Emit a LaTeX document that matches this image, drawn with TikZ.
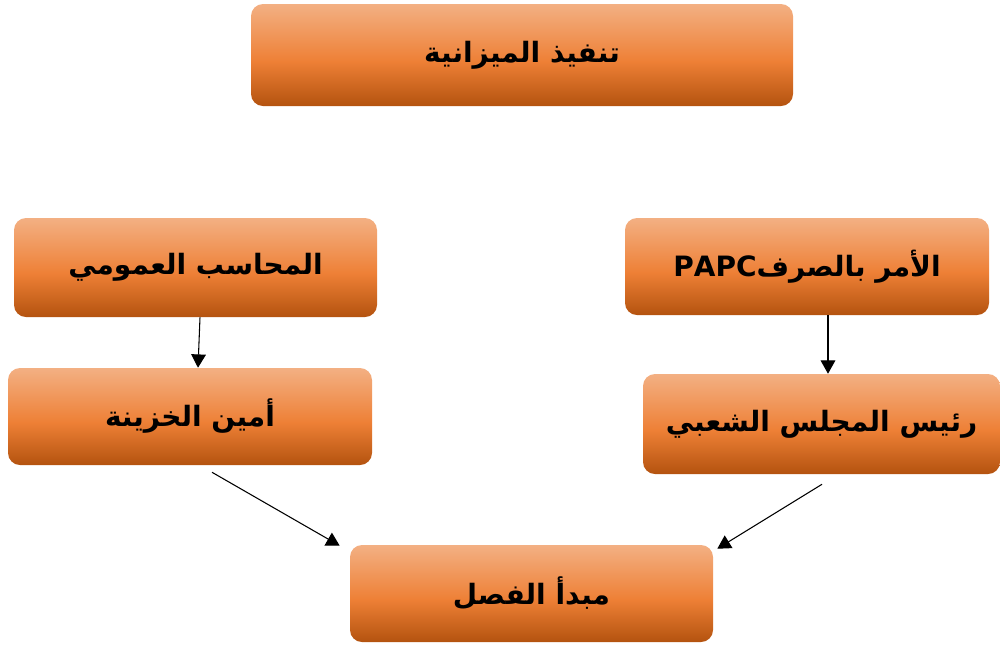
\documentclass[tikz,border=0pt]{standalone}
\usepackage{fontspec}
\newfontfamily\arabicfont[Script=Arabic]{DejaVu Sans}
\TeXXeTstate=1
\usetikzlibrary{arrows.meta,calc}
\definecolor{oLight}{HTML}{F3B083}
\definecolor{oMid}{HTML}{EE8036}
\definecolor{oDark}{HTML}{B4530F}
\pgfdeclareverticalshading{boxshade}{100bp}{color(0bp)=(oDark); color(25bp)=(oDark); color(47bp)=(oMid); color(75bp)=(oLight); color(100bp)=(oLight)}
\tikzset{
  box/.style={rounded corners=9pt, shading=boxshade, inner sep=0pt,
    font=\arabicfont\bfseries\fontsize{21}{25}\selectfont, text=black},
  arr/.style={-{Triangle[length=10pt,width=11pt]}, line width=0.8pt, black}
}
\begin{document}
\begin{tikzpicture}[x=0.75pt,y=-0.75pt]
\useasboundingbox (0,0) rectangle (1000,644);
\node[box, minimum width=406.5pt, minimum height=76.5pt] (top) at (522,55) {\beginR تنفيذ الميزانية\endR};
\node[box, minimum width=272.25pt, minimum height=74.25pt] (lt) at (195.5,267.5) {\beginR المحاسب العمومي\endR};
\node[box, minimum width=273pt, minimum height=72.75pt] (lb) at (190,416.5) {\beginR أمين الخزينة\endR};
\node[box, minimum width=273pt, minimum height=72.75pt] (rt) at (807,266.5) {\beginR الأمر بالصرف\beginL PAPC\endL\endR};
\node[box, minimum width=267.75pt, minimum height=75pt] (rb) at (821.5,424) {\beginR رئيس المجلس الشعبي\endR};
\node[box, minimum width=272.25pt, minimum height=72.75pt] (bot) at (531.5,593.5) {\beginR مبدأ الفصل\endR};
\draw[arr] ($(lt.south)+(4.5,0)$) -- ($(lb.north)+(8,0)$);
\draw[arr] ($(rt.south)+(21,0)$) -- ($(rb.north)+(6.5,0)$);
\draw[arr] ($(lb.south)+(22,7)$) -- ($(bot.north west)+(-10,1)$);
\draw[arr] ($(rb.south)+(0.5,10)$) -- ($(bot.north east)+(4,4)$);
\end{tikzpicture}
\end{document}
